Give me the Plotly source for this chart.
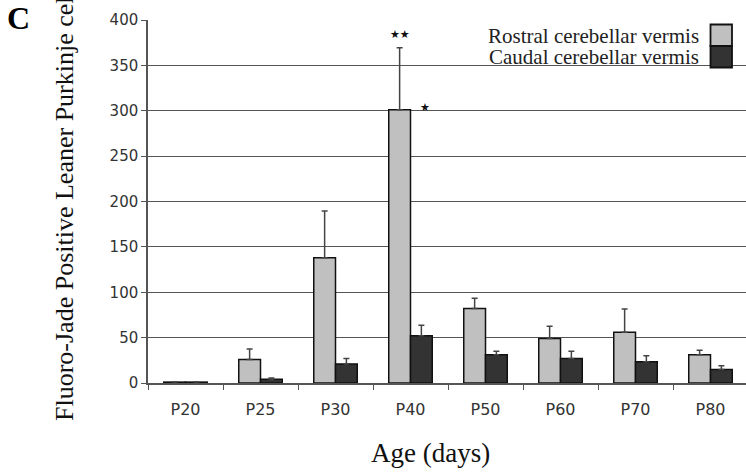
import plotly.graph_objects as go

# Age groups on the x axis
ages = ["P20", "P25", "P30", "P40", "P50", "P60", "P70", "P80"]

# Mean counts and SEM (upper error bar only)
rostral_mean = [1, 26, 138, 301, 82, 49, 56, 31]
rostral_err = [0, 11.5, 51.5, 68.5, 11.5, 13.5, 25.5, 5]
caudal_mean = [1, 4, 21, 52, 31, 27, 23.5, 15]
caudal_err = [0, 1.5, 6, 11.5, 4, 8, 6.5, 4]

y_ticks = [0, 50, 100, 150, 200, 250, 300, 350, 400]

serif = "Liberation Serif, Times New Roman, serif"
sans = "DejaVu Sans, Verdana, sans-serif"

light = "#c0c0c0"
dark = "#333333"

fig = go.Figure()
fig.add_trace(go.Bar(
    x=ages, y=rostral_mean, name="Rostral cerebellar vermis",
    marker=dict(color=light, line=dict(color="#111111", width=1.5)),
    error_y=dict(type="data", array=rostral_err, arrayminus=[0] * len(ages),
                 symmetric=False, color="#444444", thickness=1.5, width=3),
))
fig.add_trace(go.Bar(
    x=ages, y=caudal_mean, name="Caudal cerebellar vermis",
    marker=dict(color=dark, line=dict(color="#111111", width=1.5)),
    error_y=dict(type="data", array=caudal_err, arrayminus=[0] * len(ages),
                 symmetric=False, color="#444444", thickness=1.5, width=3),
))

W, H = 746, 475
ml, mt, mb = 148, 20, 92
pw, ph = W - ml, H - mt - mb

fig.update_layout(
    width=W, height=H,
    margin=dict(l=ml, r=0, t=mt, b=mb),
    paper_bgcolor="white", plot_bgcolor="white",
    barmode="group", bargap=0.42, bargroupgap=0,
    showlegend=False,
    font=dict(family=sans, color="#333333"),
)

fig.update_xaxes(
    type="category", range=[-0.5, 7.5 - 2 / 75],
    tickson="boundaries", ticks="outside", ticklen=5, tickwidth=1.2, tickcolor="#555555",
    showline=True, linecolor="#555555", linewidth=1.5,
    tickfont=dict(family=sans, size=16, color="#333333"),
    ticklabelstandoff=11,
    showgrid=False, zeroline=False,
)
fig.update_yaxes(
    range=[0, 400], tickvals=y_ticks,
    ticks="outside", ticklen=5, tickwidth=1.2, tickcolor="#555555",
    showline=True, linecolor="#555555", linewidth=1.5,
    showgrid=True, gridcolor="#555555", gridwidth=1.3,
    tickfont=dict(family=sans, size=15, color="#333333"),
    zeroline=False,
)


def px_x(px):
    return (px - ml) / pw


def px_y(py):
    return 1 - (py - mt) / ph


# Axis titles
fig.add_annotation(
    text="Age (days)", xref="paper", yref="paper", x=px_x(430), y=px_y(453),
    showarrow=False, font=dict(family=serif, size=27, color="#111111"),
    xanchor="center", yanchor="middle",
)
fig.add_annotation(
    text="Fluoro-Jade Positive Leaner Purkinje cells", xref="paper", yref="paper",
    x=px_x(64), y=px_y(423),
    showarrow=False, textangle=-90, font=dict(family=serif, size=26, color="#111111"),
    xanchor="center", yanchor="bottom",
)

# Panel letter
fig.add_annotation(
    text="<b>C</b>", xref="paper", yref="paper", x=px_x(5), y=px_y(-2),
    showarrow=False, font=dict(family=serif, size=32, color="#000000"),
    xanchor="left", yanchor="top",
)

# Significance markers at P40
fig.add_annotation(
    text="★★", x="P40", y=rostral_mean[3] + rostral_err[3], xshift=-11, yshift=13,
    showarrow=False, font=dict(family="DejaVu Sans", size=11, color="#111111"),
)
fig.add_annotation(
    text="★", x="P40", y=304, xshift=14, showarrow=False,
    font=dict(family="DejaVu Sans", size=11, color="#111111"),
)

# Legend: right-aligned labels with a two-tone swatch box
for label, yc in [("Rostral cerebellar vermis", 36), ("Caudal cerebellar vermis", 57)]:
    fig.add_annotation(
        text=label, xref="paper", yref="paper", x=px_x(701), y=px_y(yc),
        xanchor="right", yanchor="middle", showarrow=False,
        font=dict(family=serif, size=21, color="#222222"),
    )

fig.add_shape(type="rect", xref="paper", yref="paper",
              x0=px_x(710.5), x1=px_x(732), y0=px_y(46), y1=px_y(24.5),
              fillcolor=light, line=dict(color="#111111", width=1.8))
fig.add_shape(type="rect", xref="paper", yref="paper",
              x0=px_x(710.5), x1=px_x(732), y0=px_y(67.5), y1=px_y(46),
              fillcolor=dark, line=dict(color="#111111", width=1.8))

fig.write_html("out.html")
